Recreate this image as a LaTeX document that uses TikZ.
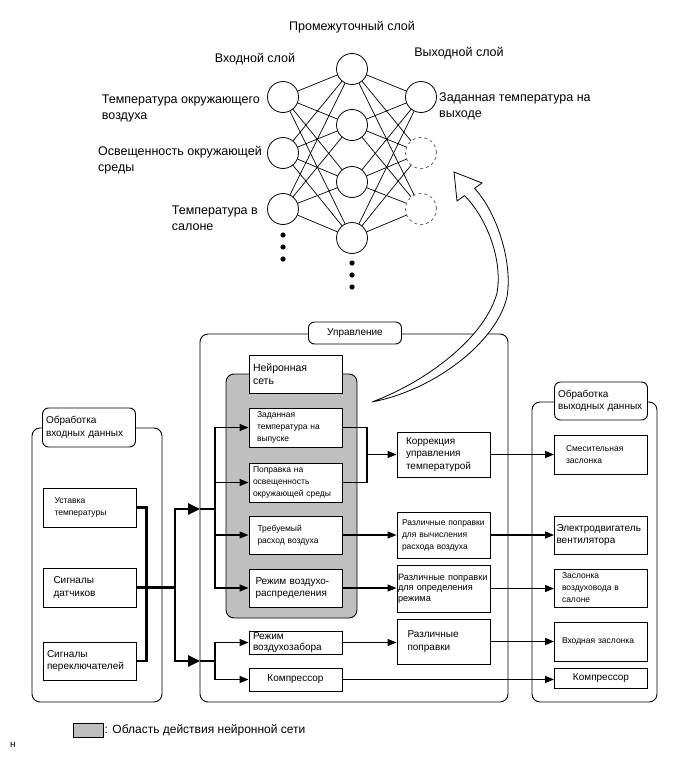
\documentclass[tikz,border=0pt]{standalone}
\usepackage{fontspec}
\setmainfont{Liberation Sans}
\usetikzlibrary{arrows.meta}

\begin{document}
\begin{tikzpicture}[x=1pt, y=-1pt, >={Triangle[length=9pt,width=7pt]},
  neuron/.style={draw, circle, minimum size=31pt, inner sep=0pt, line width=0.8pt, fill=white},
  spare/.style={neuron, dashed, draw=black!60},
  wire/.style={line width=0.7pt},
  layer/.style={font=\fontsize{12.5}{16}\selectfont, align=left, inner sep=0pt},
  frame/.style={draw, rounded corners=8pt, line width=0.9pt},
  tag/.style={draw, rounded corners=6pt, line width=0.9pt, fill=white, align=left, minimum width=93pt, text width=86pt, inner sep=0pt},
  box/.style={draw, line width=0.9pt, fill=white, minimum width=93pt, text width=85pt, align=left, inner sep=0pt},
  big/.style={font=\fontsize{10}{12.5}\selectfont},
  tight/.style={font=\fontsize{10}{10.5}\selectfont},
  small/.style={font=\fontsize{8.5}{12}\selectfont},
  bus/.style={line width=2.6pt},
  link/.style={line width=1.3pt}]
\useasboundingbox (0,0) rectangle (691,757);

% neural network
\node[layer] (midtitle) at (352,27) {Промежуточный слой};
\node[layer] (intitle) at (255,59) {Входной слой};
\node[layer] (outtitle) at (459,53) {Выходной слой};
\node[neuron] (i1) at (283,97) {};
\node[neuron] (i2) at (283,153) {};
\node[neuron] (i3) at (283,209) {};
\node[neuron] (h1) at (352,69) {};
\node[neuron] (h2) at (352,125) {};
\node[neuron] (h3) at (352,182) {};
\node[neuron] (h4) at (352,238) {};
\node[neuron] (o1) at (421,97) {};
\node[spare] (o2) at (421,153) {};
\node[spare] (o3) at (421,209) {};
\draw[wire] (i1) -- (h1) (i1) -- (h2) (i1) -- (h3) (i1) -- (h4);
\draw[wire] (i2) -- (h1) (i2) -- (h2) (i2) -- (h3) (i2) -- (h4);
\draw[wire] (i3) -- (h1) (i3) -- (h2) (i3) -- (h3) (i3) -- (h4);
\draw[wire] (o1) -- (h1) (o1) -- (h2) (o1) -- (h3) (o1) -- (h4);
\draw[wire] (o2) -- (h1) (o2) -- (h2) (o2) -- (h3) (o2) -- (h4);
\draw[wire] (o3) -- (h1) (o3) -- (h2) (o3) -- (h3) (o3) -- (h4);
\fill (283,235) circle (2.6pt) (283,247) circle (2.6pt) (283,259) circle (2.6pt);
\fill (352,263) circle (2.6pt) (352,275) circle (2.6pt) (352,287) circle (2.6pt);
\node[layer, anchor=east] (ambient) at (260,108) {Температура окружающего\\воздуха};
\node[layer, anchor=east] (sunload) at (262,160) {Освещенность окружающей\\среды};
\node[layer, anchor=east] (cabin) at (258,218) {Температура в\\салоне};
\node[layer, anchor=west] (outtemp) at (439,106) {Заданная температура на\\выходе};

% containers
\node[frame, minimum width=130pt, minimum height=274pt] (inframe) at (97,565) {};
\node[frame, minimum width=308pt, minimum height=368pt] (ctrlframe) at (354,518) {};
\node[frame, minimum width=125pt, minimum height=300pt] (outframe) at (594.5,552) {};
\node[frame, fill=black!25, minimum width=131pt, minimum height=244pt] (nnzone) at (291.5,496) {};
\node[tag, big, minimum height=39pt] (intag) at (89,427.5) {Обработка\\входных данных};
\node[tag, big, align=center, minimum height=22pt] (ctrltag) at (355,333) {Управление};
\node[tag, big, minimum height=38pt] (outtag) at (601,401) {Обработка\\выходных данных};
\node[box, font=\fontsize{10.5}{13}\selectfont, minimum height=38pt] (nntag) at (295.5,374) {Нейронная\\сеть};

% input processing
\node[box, small, text width=70pt, minimum height=39pt] (setpoint) at (89.5,507.5) {Уставка\\температуры};
\node[box, big, text width=72pt, minimum height=39pt] (sensors) at (89.5,587.5) {Сигналы\\датчиков};
\node[box, big, minimum height=38pt] (switches) at (89.5,661) {Сигналы\\переключателей};

% control
\node[box, small, text width=77pt, minimum height=39pt] (target) at (295.5,427.5) {Заданная\\температура на\\выпуске};
\node[box, small, minimum height=39pt] (sunfix) at (295.5,482.5) {Поправка на\\освещенность\\окружающей среды};
\node[box, small, text width=76pt, minimum height=38pt] (airflow) at (295.5,535) {Требуемый\\расход воздуха};
\node[box, big, text width=80pt, minimum height=38pt] (ventmode) at (295.5,588) {Режим воздухо-\\распределения};
\node[box, tight, minimum height=23pt] (intake) at (295.5,642.5) {Режим\\воздухозабора};
\node[box, big, align=center, minimum height=23pt] (comp) at (295.5,679.5) {Компрессор};
\node[box, big, text width=75pt, minimum height=45pt] (tempfix) at (443.5,454.5) {Коррекция\\управления\\температурой};
\node[box, small, text width=83pt, minimum height=46pt] (flowfix) at (443.5,535) {Различные поправки\\для вычисления\\расхода воздуха};
\node[box, font=\fontsize{9.2}{10.5}\selectfont, text width=91pt, minimum height=47pt] (modefix) at (443.5,588.5) {Различные поправки\\для определения\\режима};
\node[box, big, text width=72pt, minimum height=45pt] (otherfix) at (443.5,641.5) {Различные\\поправки};

% output processing
\node[box, small, text width=70pt, minimum height=39pt] (mixdoor) at (601,454.5) {Смесительная\\заслонка};
\node[box, big, text width=89pt, minimum height=38pt] (blower) at (601,535) {Электродвигатель\\вентилятора};
\node[box, small, text width=78pt, minimum height=38pt] (ductdoor) at (601,588) {Заслонка\\воздуховода в\\салоне};
\node[box, small, text width=78pt, minimum height=39pt] (inletdoor) at (601,641.5) {Входная заслонка\\[10pt]};
\node[box, big, align=center, minimum height=20pt] (comp2) at (601,678) {Компрессор};

% connectors
\coordinate (split) at (175,587.5);
\coordinate (entryA) at (200,509);
\coordinate (entryB) at (200,661);
\coordinate (nnbus) at (215,509);
\coordinate (lobus) at (215,661);
\coordinate (merge) at (367,454.5);
\draw[bus] (setpoint.east) -- ++(10,0) |- (switches.east);
\draw[bus] (sensors.east) -- (split);
\draw[bus, -{Triangle[length=12pt,width=11pt]}] (split) |- (entryA);
\draw[bus, -{Triangle[length=12pt,width=11pt]}] (split) |- (entryB);
\draw[link] (entryA) -- (nnbus);
\draw[link] (entryB) -- (lobus);
\draw[link, ->] (nnbus) |- (target.west);
\draw[link, ->] (nnbus) |- (sunfix.west);
\draw[link, ->] (nnbus) |- (airflow.west);
\draw[link, ->] (nnbus) |- (ventmode.west);
\draw[link, ->] (lobus) |- (intake.west);
\draw[link, ->] (lobus) |- (comp.west);
\draw[link] (target.east) -| (merge);
\draw[link] (sunfix.east) -| (merge);
\draw[link, ->] (merge) -- (tempfix.west);
\draw[link, ->] (airflow.east) -- (airflow.east -| flowfix.west);
\draw[link, ->] (ventmode.east) -- (ventmode.east -| modefix.west);
\draw[link, ->] (intake.east) -- (intake.east -| otherfix.west);
\draw[link, ->] (tempfix.east) -- (tempfix.east -| mixdoor.west);
\draw[link, ->] (flowfix.east) -- (flowfix.east -| blower.west);
\draw[link, ->] (modefix.east) -- (modefix.east -| ductdoor.west);
\draw[link, ->] (otherfix.east) -- (otherfix.east -| inletdoor.west);
\draw[link, ->] (comp.east) -- (comp.east -| comp2.west);

% hollow arrow up to the network
\draw[line width=0.8pt, fill=white, line join=miter]
  (372,402) .. controls (434,390) and (496,343) .. (507,297)
  .. controls (513,261) and (496,211) .. (474.5,188.4)
  -- (482,183) -- (454,172) -- (457,201) -- (464.5,195.6)
  .. controls (486,217) and (503,259) .. (497,293)
  .. controls (485,337) and (428,381) .. (372,402) -- cycle;

% legend
\node[draw, line width=0.9pt, fill=black!25, minimum width=30pt, minimum height=14pt, inner sep=0pt] (key) at (88,730) {};
\node[anchor=west, inner sep=1pt, font=\fontsize{12}{14}\selectfont] (keytext) at (key.east) {: Область действия нейронной сети};
\node[font=\fontsize{10}{12}\selectfont] (mark) at (13,745) {н};
\end{tikzpicture}
\end{document}
